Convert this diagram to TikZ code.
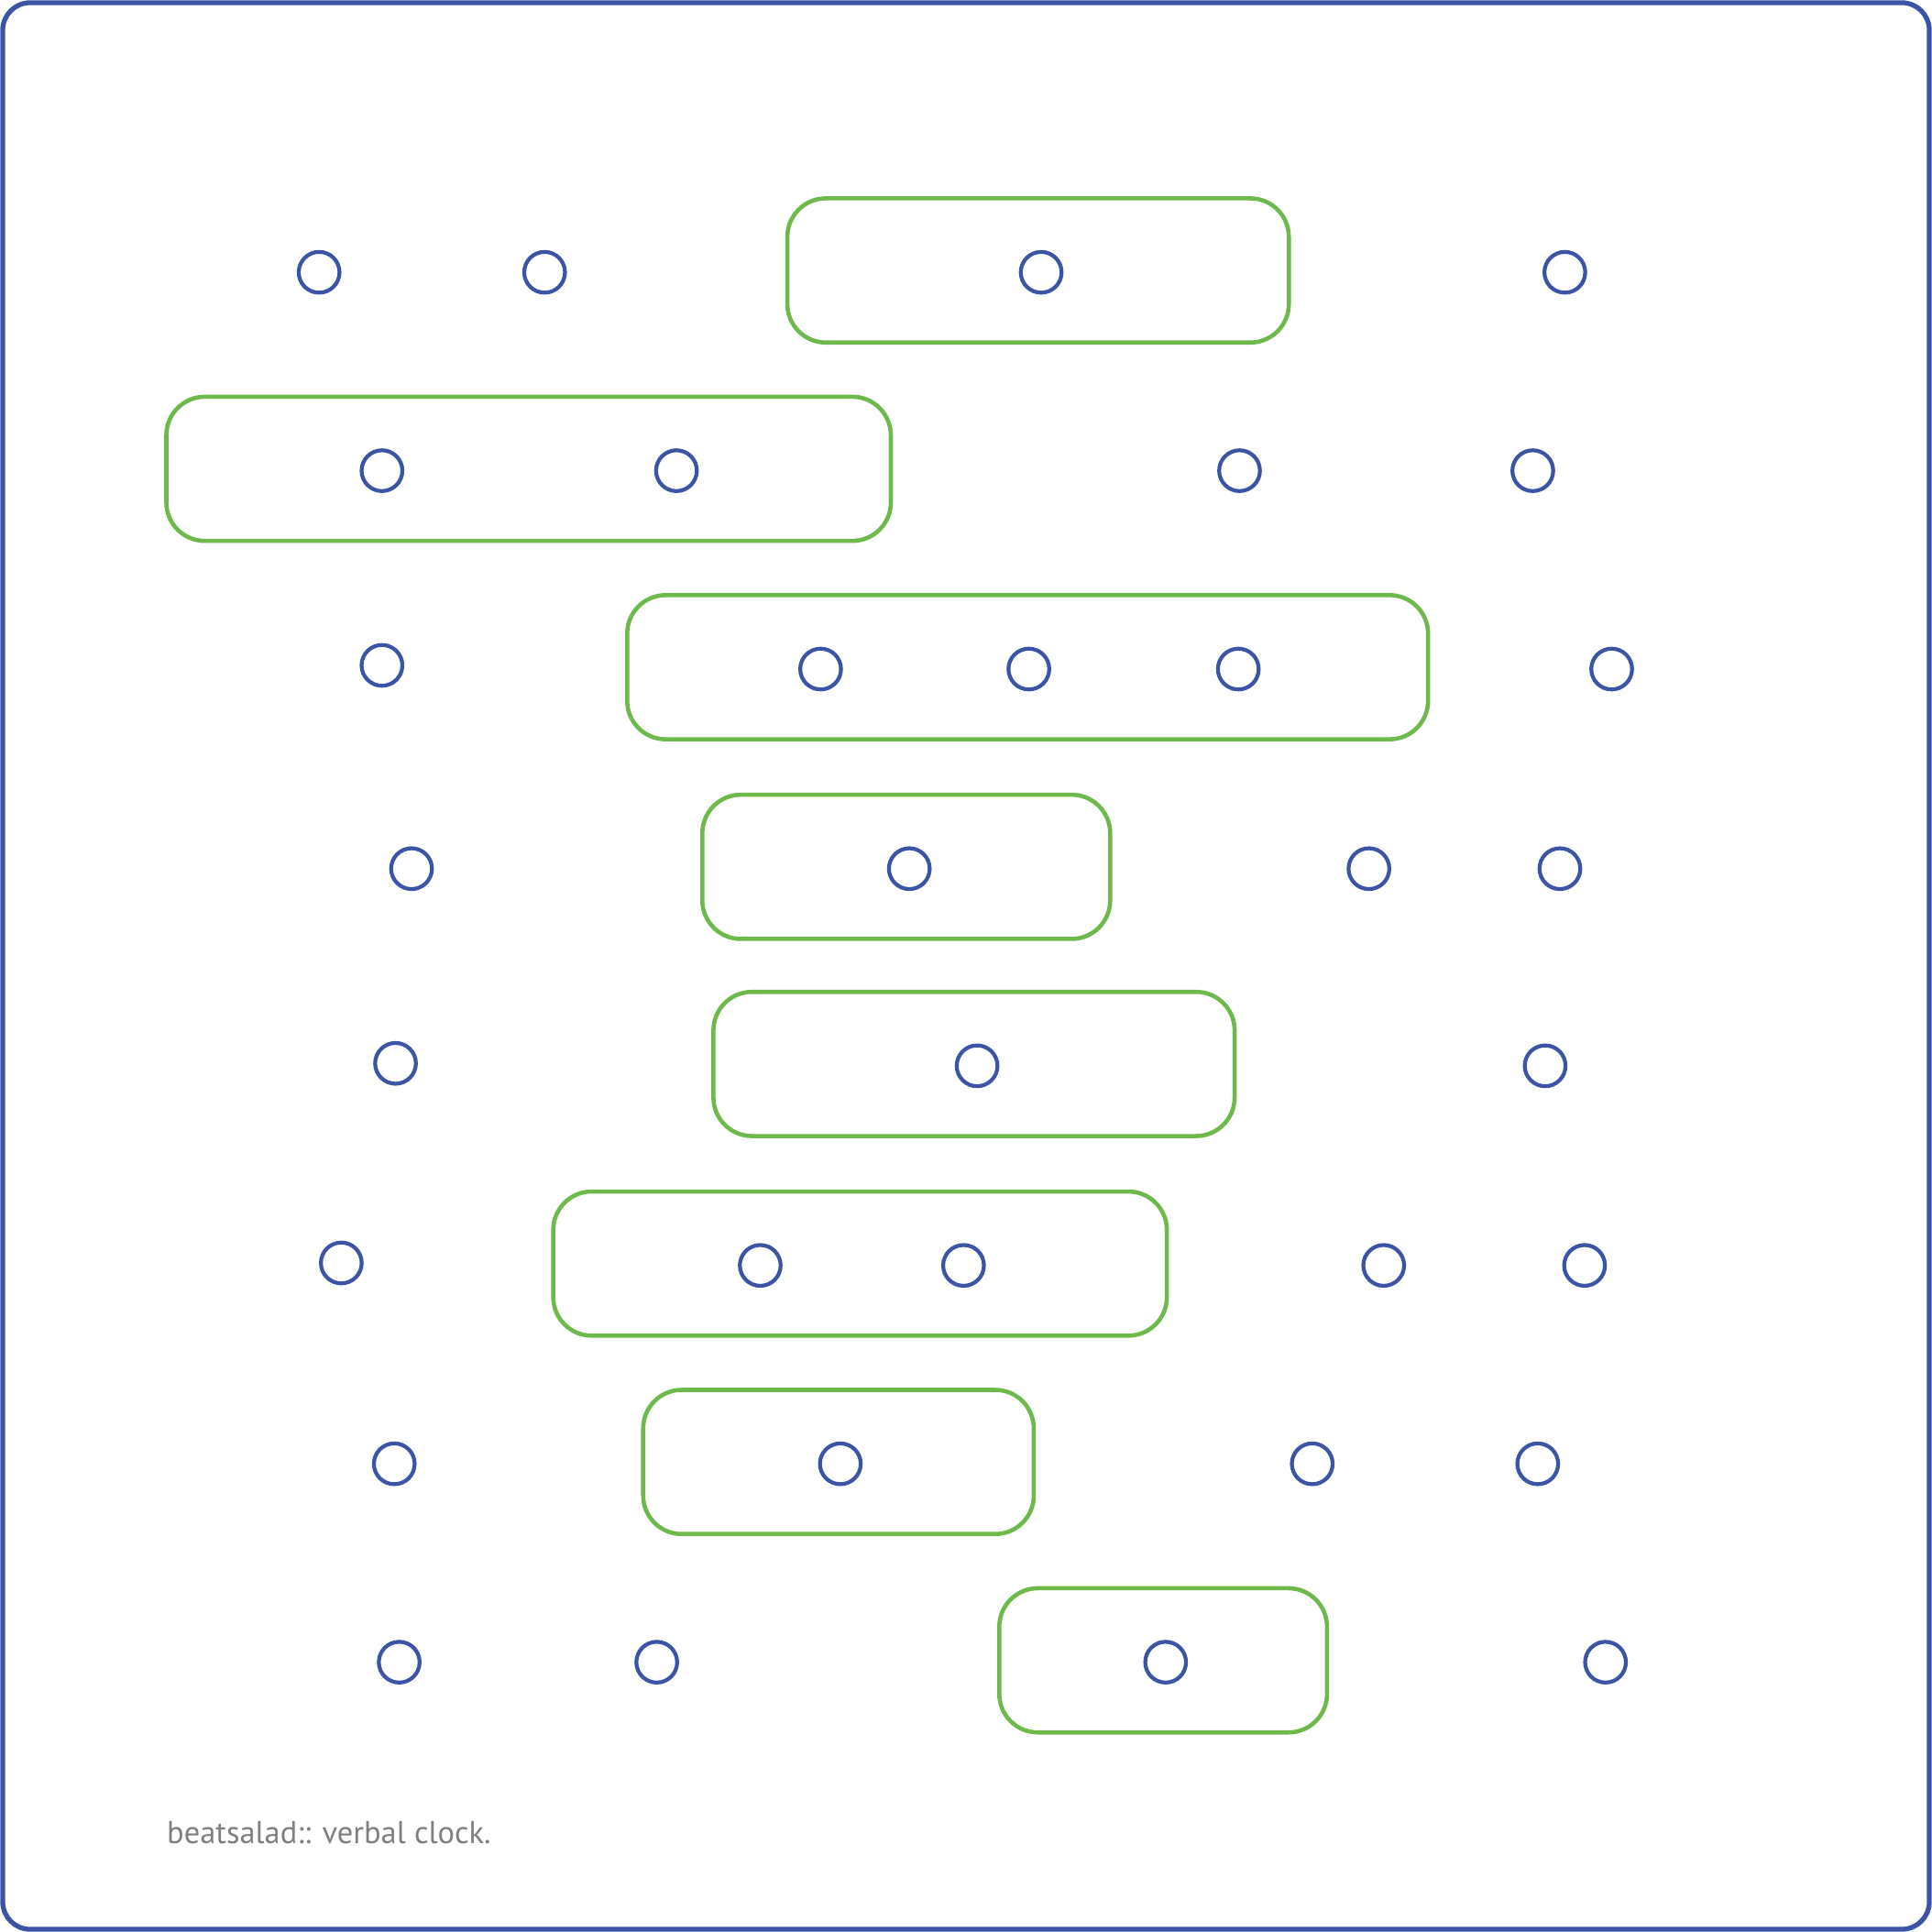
\documentclass[tikz,border=0pt]{standalone}
\usepackage{fontspec}
\setmainfont{PT Sans}
\usetikzlibrary{fit}
\definecolor{dotblue}{HTML}{3B54A5}
\definecolor{grpgreen}{HTML}{6DB94B}
\definecolor{txtgray}{HTML}{7F7F7F}
\begin{document}
\begin{tikzpicture}[x=0.013444cm,y=-0.013444cm,
  dot/.style={circle,draw=dotblue,line width=1.2pt,minimum size=0.445cm,inner sep=0pt},
  grp/.style={draw=grpgreen,line width=1.3pt,rounded corners=0.42cm,inner sep=0pt},
  frame/.style={draw=dotblue,line width=1.5pt,rounded corners=0.3cm}]
\useasboundingbox (0,0) rectangle (1568,1568);
\draw[frame] (2.2,2.2) rectangle (1565.8,1565.8);
% groups
\node[grp,fit={(639,161) (1046,278)}] (g1) {};
\node[grp,fit={(135,322) (723,439)}] (g2) {};
\node[grp,fit={(509,483) (1159,600)}] (g3) {};
\node[grp,fit={(570,645) (901,762)}] (g4) {};
\node[grp,fit={(579,805) (1002,922)}] (g5) {};
\node[grp,fit={(449,967) (947,1084)}] (g6) {};
\node[grp,fit={(522,1128) (839,1245)}] (g7) {};
\node[grp,fit={(811,1289) (1077,1406)}] (g8) {};
% row 1
\node[dot] (a1) at (259,221) {};
\node[dot] (a2) at (442,221) {};
\node[dot] (a3) at (845,221) {};
\node[dot] (a4) at (1270,221) {};
% row 2
\node[dot] (b1) at (310,382) {};
\node[dot] (b2) at (549,382) {};
\node[dot] (b3) at (1006,382) {};
\node[dot] (b4) at (1244,382) {};
% row 3
\node[dot] (c1) at (310,540) {};
\node[dot] (c2) at (666,543) {};
\node[dot] (c3) at (835,543) {};
\node[dot] (c4) at (1005,543) {};
\node[dot] (c5) at (1308,543) {};
% row 4
\node[dot] (d1) at (334,705) {};
\node[dot] (d2) at (738,705) {};
\node[dot] (d3) at (1111,705) {};
\node[dot] (d4) at (1266,705) {};
% row 5
\node[dot] (e1) at (321,863) {};
\node[dot] (e2) at (793,865) {};
\node[dot] (e3) at (1254,865) {};
% row 6
\node[dot] (f1) at (277,1025) {};
\node[dot] (f2) at (617,1027) {};
\node[dot] (f3) at (782,1027) {};
\node[dot] (f4) at (1123,1027) {};
\node[dot] (f5) at (1286,1027) {};
% row 7
\node[dot] (h1) at (320,1188) {};
\node[dot] (h2) at (682,1188) {};
\node[dot] (h3) at (1065,1188) {};
\node[dot] (h4) at (1248,1188) {};
% row 8
\node[dot] (k1) at (324,1349) {};
\node[dot] (k2) at (533,1349) {};
\node[dot] (k3) at (946,1349) {};
\node[dot] (k4) at (1303,1349) {};
% caption
\node[anchor=base west,inner sep=0pt,text=txtgray,font=\fontsize{9.8}{11}\selectfont] (cap) at (135,1496) {beatsalad:: verbal clock.};
\end{tikzpicture}
\end{document}
